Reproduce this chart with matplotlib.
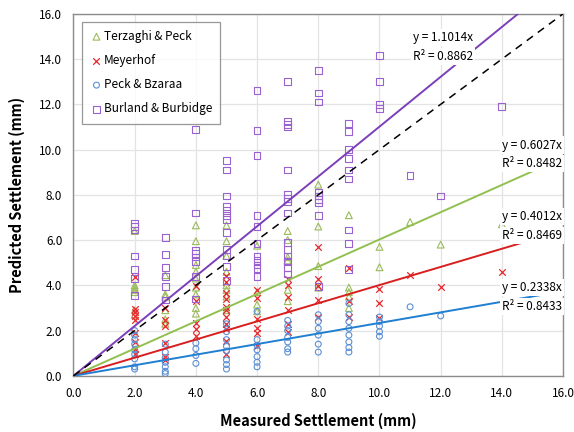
import numpy as np
import matplotlib
matplotlib.use('Agg')
import matplotlib.pyplot as plt

plt.rcParams['font.family'] = ['Noto Sans CJK KR', 'DejaVu Sans']

# Terzaghi & Peck
tp_x = [2]*7 + [3]*6 + [4]*9 + [5]*8 + [6]*4 + [7]*6 + [8]*4 + [9]*5 + [10]*2 + [11, 12, 14]
tp_y = [6.4, 4.0, 3.9, 3.8, 3.7, 2.9, 2.7,
        4.45, 3.6, 3.5, 2.9, 2.5, 2.3,
        6.65, 5.95, 4.9, 4.6, 4.3, 3.9, 3.6, 3.0, 2.75,
        6.65, 5.95, 5.3, 4.6, 4.0, 3.8, 3.5, 2.9,
        5.75, 3.7, 3.15, 2.85,
        6.4, 6.0, 5.25, 5.1, 3.8, 3.3,
        8.45, 6.6, 4.85, 3.9,
        7.1, 3.9, 3.7, 3.5, 3.0,
        5.7, 4.8,
        6.8, 5.8, 6.7]

# Meyerhof
my_x = [2]*9 + [3]*6 + [4]*5 + [5]*11 + [6]*6 + [7]*6 + [8]*5 + [9]*3 + [10]*3 + [11, 12, 14]
my_y = [4.35, 2.95, 2.8, 2.65, 2.45, 1.9, 1.5, 1.2, 0.95,
        3.0, 2.45, 2.2, 1.45, 0.85, 0.7,
        3.95, 3.3, 2.35, 2.05, 1.75,
        4.4, 4.15, 3.65, 3.4, 3.05, 2.9, 2.6, 2.3, 2.05, 1.55, 0.95,
        3.8, 3.45, 2.5, 2.1, 1.9, 1.3,
        4.3, 4.0, 3.5, 2.9, 2.3, 1.95,
        5.7, 4.3, 3.95, 3.35, 2.6,
        4.75, 3.3, 2.6,
        3.85, 3.2, 2.55,
        4.47, 3.92, 4.57]

# Peck & Bzaraa
pb_x = [2]*9 + [3]*7 + [4]*4 + [5]*8 + [6]*7 + [7]*7 + [8]*6 + [9]*8 + [10]*5 + [11, 12]
pb_y = [2.0, 1.8, 1.6, 1.4, 1.15, 0.95, 0.75, 0.4, 0.3,
        1.4, 1.05, 0.8, 0.6, 0.4, 0.2, 0.1,
        1.45, 1.2, 0.9, 0.55,
        2.3, 1.95, 1.6, 1.3, 1.1, 0.7, 0.5, 0.3,
        2.85, 1.6, 1.35, 1.15, 0.85, 0.6, 0.4,
        2.45, 2.2, 2.0, 1.7, 1.5, 1.2, 1.05,
        2.7, 2.4, 2.1, 1.8, 1.4, 1.05,
        3.2, 2.7, 2.4, 2.1, 1.8, 1.5, 1.25, 1.05,
        2.6, 2.4, 2.2, 1.95, 1.75,
        3.05, 2.65]

# Burland & Burbidge
bb_x = [2]*7 + [3]*6 + [4]*8 + [5]*12 + [6]*11 + [7]*15 + [8]*9 + [9]*9 + [10]*4 + [11, 12, 14]
bb_y = [6.75, 6.6, 6.45, 5.3, 4.7, 4.3, 3.55,
        6.1, 5.35, 4.8, 4.4, 3.95, 3.35,
        10.9, 7.2, 5.55, 5.4, 5.25, 5.05, 4.4, 3.4,
        9.5, 9.1, 7.95, 7.5, 7.3, 7.1, 6.9, 6.35, 5.6, 5.3, 4.85, 4.2,
        12.6, 10.85, 9.75, 7.1, 6.6, 5.85, 5.3, 5.1, 4.9, 4.75, 4.4,
        13.0, 11.25, 11.1, 11.0, 9.1, 8.0, 7.85, 7.7, 7.2, 5.9, 5.6, 5.3, 5.05, 4.8, 4.5,
        13.5, 12.5, 12.1, 8.1, 7.95, 7.8, 7.65, 7.1, 3.95,
        11.15, 10.8, 10.0, 9.6, 9.1, 8.7, 6.45, 5.85, 4.7,
        14.15, 13.0, 12.0, 11.8,
        8.85, 7.95, 11.9]

# trendlines through origin (slope, R2)
slopes = [0.6027, 0.4012, 0.2338, 1.1014]
r2 = [0.8482, 0.8469, 0.8433, 0.8862]

ticks = np.arange(0, 17, 2)

fig = plt.figure(figsize=(5.74, 4.32), dpi=100)
ax = fig.add_axes([0.128, 0.13, 0.853, 0.838])

ax.scatter(tp_x, tp_y, marker='^', s=24, facecolors='none', edgecolors='#9BBB59', linewidths=0.8,
           label='Terzaghi & Peck', zorder=3)
ax.scatter(my_x, my_y, marker='x', s=22, color='#E8262B', linewidths=0.9,
           label='Meyerhof', zorder=3)
ax.scatter(pb_x, pb_y, marker='o', s=18, facecolors='none', edgecolors='#5B8FD5', linewidths=0.8,
           label='Peck & Bzaraa', zorder=3)
ax.scatter(bb_x, bb_y, marker='s', s=24, facecolors='none', edgecolors='#9A62D0', linewidths=0.8,
           label='Burland & Burbidge', zorder=3)

xx = np.array([0, 16])
line_colors = ['#92C050', '#D81E1E', '#1F7FD0', '#7B3FB8']
for k, c in zip(slopes, line_colors):
    ax.plot(xx, k * xx, color=c, lw=1.4, zorder=4)
ax.plot(xx, xx, color='black', lw=1.1, ls=(0, (5, 4)), zorder=4)

# equation labels (white boxes cover lines, like Excel)
box = dict(facecolor='white', edgecolor='none', pad=1.5)
lab_pos = [(14.0, 10.2, 9.38), (14.0, 7.04, 6.19), (14.0, 3.89, 3.05), (11.1, 14.96, 14.1)]
for k, r, (lx, ly1, ly2) in zip(slopes, r2, lab_pos):
    ax.text(lx, ly1, 'y = {:.4f}x'.format(k), fontsize=8.5, va='center', ha='left', bbox=box, zorder=5)
    ax.text(lx, ly2, 'R² = {:.4f}'.format(r), fontsize=8.5, va='center', ha='left', bbox=box, zorder=5)

ax.set_xlim(0, 16)
ax.set_ylim(0, 16)
ax.set_xticks(ticks)
ax.set_yticks(ticks)
ax.set_xticklabels(['{:.1f}'.format(t) for t in ticks], fontsize=8.5)
ax.set_yticklabels(['{:.1f}'.format(t) for t in ticks], fontsize=8.5)
ax.tick_params(length=0, pad=8)
ax.grid(color='#E3E3E3', lw=0.9)
ax.set_axisbelow(True)
for sp in ax.spines.values():
    sp.set_color('#8C8C8C')
    sp.set_linewidth(1.0)

ax.set_xlabel('Measured Settlement (mm)', fontsize=10.5, fontweight='bold', labelpad=9)
ax.set_ylabel('Predicted Settlement (mm)', fontsize=10.5, fontweight='bold', labelpad=10)

leg = ax.legend(loc='upper left', bbox_to_anchor=(0.006, 0.995), fontsize=8.5, frameon=True,
                fancybox=False, edgecolor='#7F7F7F', labelspacing=0.95, handletextpad=0.1,
                borderpad=0.7, handlelength=1.0, scatterpoints=1)
leg.get_frame().set_linewidth(0.9)
leg.set_zorder(6)

plt.savefig('out.png', dpi=100)
